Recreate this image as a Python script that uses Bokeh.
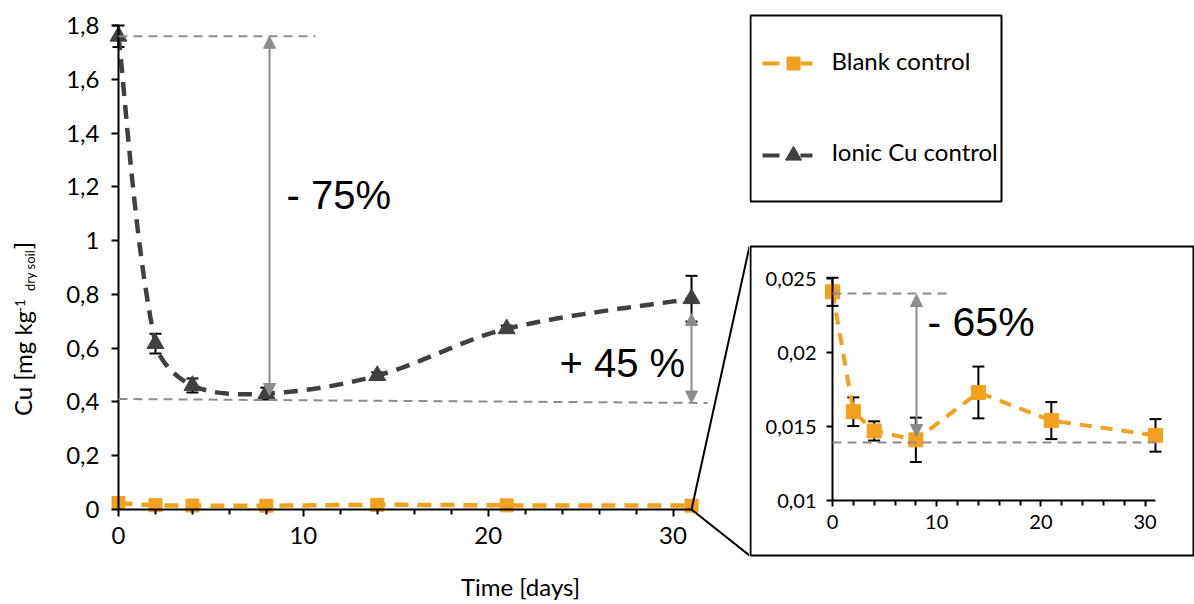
import numpy as np
from math import pi
from bokeh.plotting import figure
from bokeh.layouts import row
from bokeh.models import (Range1d, FixedTicker, CustomJSTickFormatter, Whisker, TeeHead,
                          Arrow, NormalHead, Label, BoxAnnotation, PolyAnnotation,
                          ColumnDataSource)
from bokeh.embed import file_html
from bokeh.resources import INLINE

# ---------------- data ----------------
DAYS = [0, 2, 4, 8, 14, 21, 31]
IONIC_CU = [1.76, 0.617, 0.461, 0.431, 0.498, 0.672, 0.784]
IONIC_CU_SD = [0.04, 0.037, 0.026, 0.022, 0.012, 0.012, 0.085]
BLANK = [0.0241, 0.0160, 0.0147, 0.0141, 0.0173, 0.0154, 0.0144]
BLANK_SD = [0.00095, 0.00097, 0.00065, 0.0015, 0.00175, 0.00125, 0.0011]
SERIES_NAMES = ["Blank control", "Ionic Cu control"]
MAIN_X_TICKS = [0, 10, 20, 30]
MINOR_X_TICKS = [2, 4, 6, 8, 12, 14, 16, 18, 22, 24, 26, 28]
MAIN_Y_TICKS = [0, 0.2, 0.4, 0.6, 0.8, 1.0, 1.2, 1.4, 1.6, 1.8]
INSET_Y_TICKS = [0.01, 0.015, 0.02, 0.025]
CHANGE_LABELS = ["- 75%", "+ 45 %", "- 65%"]
X_TITLE = "Time [days]"

# ---------------- style / layout ----------------
ORANGE = "#F2A11F"
DARK = "#404040"
GRAY = "#8C8C8C"
FONT = "Lato"
PFONT = "Liberation Sans"
H = 604
W1 = 749
W2 = 1194 - W1
# pixel anchors (global canvas px) of the axis extents
A1 = dict(l=118, r=691, t=25, b=509)      # main plot
A2 = dict(l=832, r=1155, t=278, b=500)    # inset plot
X1R = (0, 31); Y1R = (0, 1.8)
X2R = (0, 31); Y2R = (0.01, 0.025)
DESC = 0.16   # distance from text baseline to text-box bottom, in em


def dx1(px):
    return X1R[0] + (px - A1["l"]) / (A1["r"] - A1["l"]) * (X1R[1] - X1R[0])


def dy1(py):
    return Y1R[0] + (A1["b"] - py) / (A1["b"] - A1["t"]) * (Y1R[1] - Y1R[0])


def dx2(px):
    return X2R[0] + (px - A2["l"]) / (A2["r"] - A2["l"]) * (X2R[1] - X2R[0])


def dy2(py):
    return Y2R[0] + (A2["b"] - py) / (A2["b"] - A2["t"]) * (Y2R[1] - Y2R[0])


def smooth(xs, ys, kx, ky, n=24):
    """Excel-like smoothed curve through the data points (chord-scaled Bezier)."""
    P = np.column_stack([np.asarray(xs, float), np.asarray(ys, float)])
    S = np.array([kx, ky])
    N = len(P)
    L = [np.linalg.norm((P[i + 1] - P[i]) * S) for i in range(N - 1)]
    out = [P[0]]
    t = np.linspace(0, 1, n + 1)[1:, None]
    for i in range(N - 1):
        p1, p2 = P[i], P[i + 1]
        if i == 0:
            c1 = p1 + (p2 - p1) / 6.0
        else:
            c1 = p1 + (p2 - P[i - 1]) * L[i] / (L[i - 1] + L[i]) / 3.0
        if i + 2 >= N:
            c2 = p2 - (p2 - p1) / 6.0
        else:
            c2 = p2 - (P[i + 2] - p1) * L[i] / (L[i] + L[i + 1]) / 3.0
        seg = (1 - t) ** 3 * p1 + 3 * (1 - t) ** 2 * t * c1 + 3 * (1 - t) * t ** 2 * c2 + t ** 3 * p2
        out.extend(seg)
    out = np.array(out)
    return out[:, 0], out[:, 1]


def style_axis(ax, size):
    ax.axis_line_color = "black"
    ax.axis_line_width = 2
    ax.major_tick_line_color = "black"
    ax.major_tick_line_width = 2
    ax.minor_tick_line_color = "black"
    ax.minor_tick_line_width = 2
    ax.major_tick_in = 0
    ax.minor_tick_in = 0
    ax.major_label_text_font = FONT
    ax.major_label_text_font_size = size
    ax.major_label_text_color = "black"


fmt = CustomJSTickFormatter(code="return (Math.round(tick*1000)/1000).toString().replace('.', ',');")


def base_fig(w, xr, yr):
    f = figure(width=w, height=H, x_range=xr, y_range=yr,
               output_backend="svg", toolbar_location=None,
               min_border_left=0, min_border_right=0, min_border_top=0, min_border_bottom=0,
               outline_line_color=None, background_fill_color="white", border_fill_color="white")
    f.grid.visible = False
    return f


def hlabel(fx, fy, px, base_py, text, font, size, align="left"):
    # horizontal text whose alphabetic baseline sits at base_py (canvas px)
    return Label(x=fx(px), y=fy(base_py + DESC * size), text=text, text_font=font,
                 text_font_size=f"{size}px", text_color="black", text_align=align,
                 text_baseline="bottom")


def vlabel(px_base, py_center, text, size):
    # text rotated 90deg, baseline (right side of glyphs) at px_base, centred at py_center
    return Label(x=dx1(px_base + DESC * size), y=dy1(py_center), text=text, angle=pi / 2,
                 text_align="center", text_baseline="bottom", text_font=FONT,
                 text_font_size=f"{size}px", text_color="black")


# ---------------- main figure ----------------
p1 = base_fig(W1, Range1d(dx1(0), dx1(W1)), Range1d(dy1(H), dy1(0)))
xa = p1.xaxis[0]
xa.fixed_location = Y1R[0]
xa.bounds = X1R
xa.ticker = FixedTicker(ticks=MAIN_X_TICKS, minor_ticks=MINOR_X_TICKS)
style_axis(xa, "24px")
xa.major_tick_out = 7
xa.minor_tick_out = 5
xa.major_label_standoff = 10
ya = p1.yaxis[0]
ya.fixed_location = X1R[0]
ya.bounds = Y1R
ya.ticker = FixedTicker(ticks=MAIN_Y_TICKS)
ya.formatter = fmt
style_axis(ya, "24px")
ya.major_tick_out = 7
ya.minor_tick_line_color = None
ya.major_label_standoff = 12

ion_lo = [v - s for v, s in zip(IONIC_CU, IONIC_CU_SD)]
ion_hi = [v + s for v, s in zip(IONIC_CU, IONIC_CU_SD)]
bl_lo = [v - s for v, s in zip(BLANK, BLANK_SD)]
bl_hi = [v + s for v, s in zip(BLANK, BLANK_SD)]
src_ion = ColumnDataSource(dict(x=DAYS, y=IONIC_CU, lo=ion_lo, hi=ion_hi))
src_bl = ColumnDataSource(dict(x=DAYS, y=BLANK, lo=bl_lo, hi=bl_hi))


def whisker(src, size):
    return Whisker(source=src, base="x", lower="lo", upper="hi", dimension="height",
                   line_color="black", line_width=2,
                   lower_head=TeeHead(size=size, line_color="black", line_width=2),
                   upper_head=TeeHead(size=size, line_color="black", line_width=2))


p1.add_layout(whisker(src_ion, 12))
p1.add_layout(whisker(src_bl, 12))

KX1 = (A1["r"] - A1["l"]) / (X1R[1] - X1R[0])
KY1 = (A1["b"] - A1["t"]) / (Y1R[1] - Y1R[0])
sx, sy = smooth(DAYS, IONIC_CU, KX1, KY1)
p1.line(sx, sy, line_color=DARK, line_width=4.5, line_dash="14 9")
bx, by = smooth(DAYS, BLANK, KX1, KY1)
p1.line(bx, by, line_color=ORANGE, line_width=4.5, line_dash="14 9")
p1.scatter("x", "y", source=src_ion, marker="triangle", size=17, fill_color=DARK, line_color=DARK)
p1.scatter("x", "y", source=src_bl, marker="square", size=13, fill_color=ORANGE, line_color=ORANGE)

# reference dashed levels
p1.add_layout(Arrow(x_start=X1R[0], y_start=IONIC_CU[0], x_end=dx1(315), y_end=IONIC_CU[0], end=None,
                    line_color=GRAY, line_width=2, line_dash="9 6"))
p1.add_layout(Arrow(x_start=X1R[0], y_start=dy1(398.5), x_end=dx1(707), y_end=dy1(402.5), end=None,
                    line_color=GRAY, line_width=2, line_dash="9 6"))


def garrow(x, y0, y1):
    return Arrow(x_start=x, y_start=y0, x_end=x, y_end=y1, line_color=GRAY, line_width=2,
                 start=NormalHead(size=12, fill_color=GRAY, line_color=GRAY),
                 end=NormalHead(size=12, fill_color=GRAY, line_color=GRAY))


p1.add_layout(garrow(dx1(269), dy1(395), IONIC_CU[0]))
p1.add_layout(garrow(DAYS[-1], dy1(402.5), dy1(313)))

p1.add_layout(hlabel(dx1, dy1, 286, 210, CHANGE_LABELS[0], PFONT, 40))
p1.add_layout(hlabel(dx1, dy1, 559, 378, CHANGE_LABELS[1], PFONT, 40))

# connectors to inset
p1.add_layout(Arrow(x_start=DAYS[-1], y_start=Y1R[0], x_end=dx1(749), y_end=dy1(246), end=None,
                    line_color="black", line_width=2))
p1.add_layout(Arrow(x_start=DAYS[-1], y_start=Y1R[0], x_end=dx1(749), y_end=dy1(555), end=None,
                    line_color="black", line_width=2))

# y axis title with super/subscript
p1.add_layout(vlabel(33, 363, "Cu [mg kg", 24))
p1.add_layout(vlabel(22, 305, "-1", 13))
p1.add_layout(vlabel(35, 270, "dry soil", 13))
p1.add_layout(vlabel(33, 245, "]", 24))
p1.add_layout(hlabel(dx1, dy1, 520, 597, X_TITLE, FONT, 24, align="center"))

# ---------------- inset figure ----------------
p2 = base_fig(W2, Range1d(dx2(W1), dx2(1194)), Range1d(dy2(H), dy2(0)))
xa2 = p2.xaxis[0]
xa2.fixed_location = Y2R[0]
xa2.bounds = X2R
xa2.ticker = FixedTicker(ticks=MAIN_X_TICKS, minor_ticks=MINOR_X_TICKS)
style_axis(xa2, "20px")
xa2.major_tick_out = 6
xa2.minor_tick_out = 5
xa2.major_label_standoff = 8
ya2 = p2.yaxis[0]
ya2.fixed_location = X2R[0]
ya2.bounds = Y2R
ya2.ticker = FixedTicker(ticks=INSET_Y_TICKS)
ya2.formatter = fmt
style_axis(ya2, "20px")
ya2.major_tick_out = 6
ya2.minor_tick_line_color = None
ya2.major_label_standoff = 10

p2.add_layout(whisker(src_bl, 12))
p2.line(DAYS, BLANK, line_color=ORANGE, line_width=4, line_dash="12 9")
p2.scatter("x", "y", source=src_bl, marker="square", size=14, fill_color=ORANGE, line_color=ORANGE)

p2.add_layout(Arrow(x_start=X2R[0], y_start=dy2(293), x_end=dx2(952), y_end=dy2(293), end=None,
                    line_color=GRAY, line_width=2, line_dash="9 6"))
p2.add_layout(Arrow(x_start=X2R[0], y_start=dy2(442), x_end=X2R[1], y_end=dy2(442), end=None,
                    line_color=GRAY, line_width=2, line_dash="9 6"))
p2.add_layout(Arrow(x_start=dx2(916), y_start=dy2(436), x_end=dx2(916), y_end=dy2(294),
                    line_color=GRAY, line_width=2,
                    start=NormalHead(size=12, fill_color=GRAY, line_color=GRAY),
                    end=NormalHead(size=12, fill_color=GRAY, line_color=GRAY)))
p2.add_layout(hlabel(dx2, dy2, 927, 338, CHANGE_LABELS[2], PFONT, 41))

# inset frame box
p2.add_layout(PolyAnnotation(xs=[dx2(750), dx2(1193), dx2(1193), dx2(750)],
                             ys=[dy2(246), dy2(246), dy2(555), dy2(555)],
                             fill_color=None, fill_alpha=0, line_color="black", line_alpha=1.0,
                             line_width=2))

# legend
p2.add_layout(BoxAnnotation(left=dx2(750), right=dx2(1001), top=dy2(15), bottom=dy2(201),
                            fill_color=None, fill_alpha=0, line_color="black", line_alpha=1.0,
                            line_width=2))
for name, col, mk, sz, ly, ty in [(SERIES_NAMES[0], ORANGE, "square", 13, 63, 71),
                                  (SERIES_NAMES[1], DARK, "triangle", 16, 155, 162)]:
    p2.segment(x0=[dx2(762), dx2(800)], y0=[dy2(ly)] * 2, x1=[dx2(779), dx2(812)], y1=[dy2(ly)] * 2,
               line_color=col, line_width=4)
    p2.scatter([dx2(793)], [dy2(ly)], marker=mk, size=sz, fill_color=col, line_color=col)
    p2.add_layout(hlabel(dx2, dy2, 831, ty, name, FONT, 24))

layout = row(p1, p2)
open("out.html", "w").write(file_html(layout, INLINE))
